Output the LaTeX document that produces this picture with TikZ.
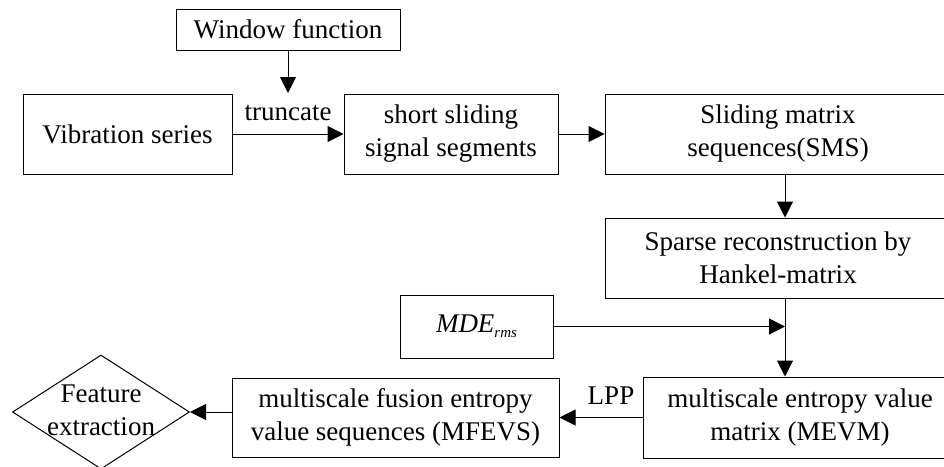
\documentclass[tikz,border=0pt]{standalone}
\usepackage{fontspec}
\setmainfont{Liberation Serif}
\usetikzlibrary{arrows.meta,shapes.geometric}
\tikzset{
  box/.style={draw, line width=1pt, rectangle, inner sep=0pt, align=center,
    font=\fontsize{27}{33}\selectfont},
  lbl/.style={inner sep=0pt, font=\fontsize{27}{33}\selectfont},
  arr/.style={line width=1pt, -{Triangle[length=16pt,width=16pt]}},
}
\begin{document}
\begin{tikzpicture}[x=1pt,y=-1pt]
\useasboundingbox (0,0) rectangle (944,466);
\clip (0,0) rectangle (944,466);
\node[box, minimum width=224pt, minimum height=41pt] (win) at (288,29.5) {Window function};
\node[box, minimum width=209pt, minimum height=80pt] (vib) at (127.5,134) {Vibration series};
\node[box, minimum width=214pt, minimum height=80pt] (short) at (451,134) {short sliding\\signal segments};
\node[box, minimum width=346pt, minimum height=80pt] (sms) at (778,134) {Sliding matrix\\sequences(SMS)};
\node[box, minimum width=346pt, minimum height=80pt] (sparse) at (778,258) {Sparse reconstruction by\\Hankel-matrix};
\node[box, minimum width=153pt, minimum height=63pt] (mde) at (476.5,326.5) {\textit{MDE}\raisebox{-5pt}{\fontsize{15}{17}\selectfont\textit{rms}}};
\node[box, minimum width=314pt, minimum height=81pt] (mevm) at (800,417.5) {multiscale entropy value\\matrix (MEVM)};
\node[box, minimum width=327pt, minimum height=79pt] (mfevs) at (395.5,417.5) {multiscale fusion entropy\\value sequences (MFEVS)};
\node[draw, line width=1pt, diamond, inner sep=0pt, minimum width=177pt, minimum height=114pt] (feat) at (101,412) {};
\node[lbl, align=center] (feattxt) at (101,410) {Feature\\extraction};
\node[lbl] (trunc) at (288,113) {truncate};
\node[lbl] (lpp) at (611,396) {LPP};
\coordinate (wend) at (288,93);
\coordinate (cx) at (785,0);
\draw[arr] (win.south) -- (wend);
\draw[arr] (vib.east) -- (short.west);
\draw[arr] (short.east) -- (sms.west);
\draw[arr] (sms.south -| cx) -- (sparse.north -| cx);
\draw[arr] (sparse.south -| cx) -- (mevm.north -| cx);
\draw[arr] (mde.east) -- (mde.east -| cx);
\draw[arr] (mevm.west) -- (mfevs.east);
\draw[arr] (mfevs.west |- feat) -- (feat.east);
\end{tikzpicture}
\end{document}
